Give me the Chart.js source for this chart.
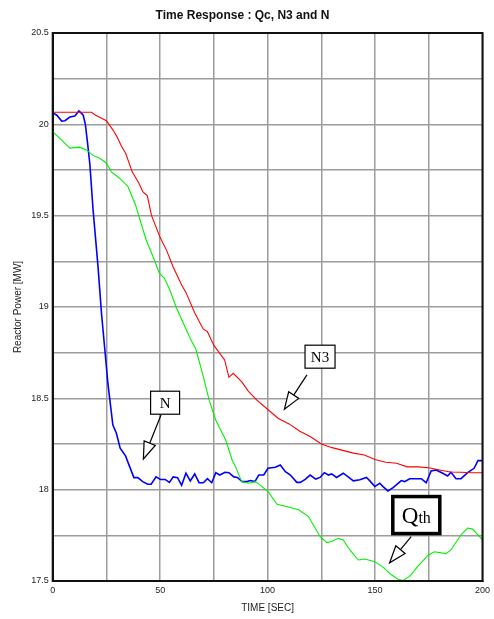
<!DOCTYPE html>
<html>
<head>
<meta charset="utf-8">
<script src="https://cdn.jsdelivr.net/npm/chart.js@4/dist/chart.umd.min.js"></script>
<style>
  html, body { margin: 0; padding: 0; background: #fff; }
  #wrap { width: 494px; height: 619px; }
</style>
</head>
<body>
<div id="wrap"><canvas id="chart"></canvas></div>
<script>
// time axis (s) and series
const timeN = [
  0, 1.9, 4.2, 5.7, 8, 10.3, 12.2, 13.4, 14.2, 15.2,
  16.2, 17.3, 18.8, 21.1, 22.7, 24.2, 25.7, 28, 29.6, 31.4,
  33.9, 35.8, 37.8, 39.6, 41.9, 44.2, 45.8, 48.1, 50.1, 52.3,
  54.3, 56.1, 58.1, 60, 62, 64, 66.1, 68.1, 70.1, 72,
  74, 75.9, 77.7, 80.2, 82, 84.3, 85.9, 88.2, 90.5, 92,
  94.1, 95.9, 98.2, 100.2, 103.6, 105.9, 108.3, 110.6, 113.6, 115.2,
  117.5, 119.8, 122.4, 124.4, 126.4, 128.3, 129.8, 132.1, 135.2, 137.5,
  139.9, 142.9, 146, 147.6, 149.9, 152.2, 153.7, 156, 158.4, 162.2,
  163.8, 166.1, 171.5, 173.8, 176.1, 178.4, 181.5, 183.8, 185.3, 187.7,
  190, 193.1, 196.1, 197.9, 200
];
const powerN = [
  20.064, 20.05, 20.018, 20.02, 20.04, 20.045, 20.073, 20.06, 20.05, 20.0,
  19.9, 19.78, 19.53, 19.22, 18.966, 18.774, 18.58, 18.354, 18.31, 18.227,
  18.185, 18.126, 18.066, 18.066, 18.044, 18.03, 18.03, 18.07, 18.056, 18.056,
  18.04, 18.07, 18.066, 18.024, 18.09, 18.048, 18.086, 18.038, 18.038, 18.06,
  18.038, 18.093, 18.08, 18.095, 18.093, 18.07, 18.067, 18.044, 18.044, 18.05,
  18.044, 18.08, 18.08, 18.117, 18.123, 18.135, 18.098, 18.08, 18.04, 18.04,
  18.056, 18.08, 18.058, 18.067, 18.093, 18.08, 18.086, 18.067, 18.09, 18.07,
  18.048, 18.054, 18.067, 18.048, 18.017, 18.035, 18.017, 17.993, 18.011, 18.05,
  18.044, 18.06, 18.06, 18.038, 18.102, 18.108, 18.09, 18.075, 18.095, 18.06,
  18.06, 18.093, 18.117, 18.159, 18.159
];

const timeN3 = [
  0, 5, 10, 15, 18, 20, 25, 28, 30, 32,
  34, 37, 40, 42, 44, 46, 50, 53, 56, 60,
  62, 66, 70, 72, 75, 80, 82, 84, 88, 91,
  95, 100, 105, 110, 115, 120, 125, 130, 135, 140,
  145, 150, 155, 160, 165, 170, 175, 180, 185, 190,
  195, 200
];
const powerN3 = [
  20.066, 20.066, 20.066, 20.066, 20.066, 20.05, 20.02, 19.97, 19.93, 19.88,
  19.84, 19.74, 19.68, 19.63, 19.61, 19.50, 19.38, 19.31, 19.22, 19.12,
  19.08, 18.97, 18.88, 18.865, 18.79, 18.71, 18.615, 18.637, 18.59, 18.54,
  18.49, 18.44, 18.39, 18.36, 18.32, 18.29, 18.25, 18.23, 18.215, 18.20,
  18.19, 18.165, 18.15, 18.145, 18.125, 18.125, 18.12, 18.108, 18.097, 18.095,
  18.093, 18.093
];

const timeQth = [
  0, 4.2, 8, 12.4, 15.7, 18.8, 21.9, 25, 27.3, 31.1,
  35, 38.5, 40.4, 43.5, 47.3, 49.6, 52, 54.3, 57.4, 62,
  64.3, 66.6, 69.7, 72.8, 75.9, 80.5, 83.6, 85.1, 87.9, 91.3,
  94.4, 97.4, 100.5, 104.4, 109.8, 114.4, 119, 124.4, 127.5, 129.8,
  132.9, 135.2, 138.3, 142.2, 145.3, 149.9, 153.7, 157.6, 160.7, 163,
  166.1, 169.9, 174.6, 177.6, 183, 185.3, 190, 193.1, 195.4, 198.5,
  200
];
const powerQth = [
  19.96, 19.914, 19.87, 19.875, 19.86, 19.83, 19.814, 19.787, 19.74, 19.705,
  19.66, 19.56, 19.486, 19.367, 19.257, 19.185, 19.157, 19.10, 19.0, 18.88,
  18.82, 18.77, 18.637, 18.49, 18.38, 18.272, 18.16, 18.126, 18.044, 18.035,
  18.044, 18.017, 17.985, 17.92, 17.905, 17.89, 17.853, 17.744, 17.71, 17.716,
  17.734, 17.725, 17.67, 17.615, 17.62, 17.606, 17.576, 17.534, 17.51, 17.503,
  17.525, 17.58, 17.64, 17.66, 17.65, 17.67, 17.753, 17.79, 17.784, 17.744,
  17.725
];

// callout labels and where they point (data coords)
const calloutText = ['N', 'N3', 'Qth'];
const calloutBox = [[52.3, 18.476], [124.4, 18.728], [169.2, 17.861]];
const calloutTail = [[50.4, 18.409], [118.3, 18.628], [166.8, 17.743]];
const calloutTip = [[42.2, 18.168], [107.8, 18.44], [156.8, 17.60]];

function pairs(xs, ys) {
  return xs.map((x, i) => ({ x: x, y: ys[i] }));
}

// black frame round the plot area
const framePlugin = {
  id: 'frame',
  afterDatasetsDraw(chart) {
    const a = chart.chartArea, ctx = chart.ctx;
    ctx.save();
    ctx.strokeStyle = '#111';
    ctx.lineWidth = 2;
    ctx.strokeRect(a.left, a.top, a.right - a.left, a.bottom - a.top);
    ctx.restore();
  }
};

// boxed labels with open-headed arrows
const calloutPlugin = {
  id: 'callouts',
  afterDraw(chart) {
    const ctx = chart.ctx;
    const xs = chart.scales.x, ys = chart.scales.y;
    const px = p => [xs.getPixelForValue(p[0]), ys.getPixelForValue(p[1])];
    calloutText.forEach((txt, i) => {
      const big = txt === 'Qth';
      const [cx, cy] = px(calloutBox[i]);
      const [tx, ty] = px(calloutTail[i]);
      const [hx, hy] = px(calloutTip[i]);
      const w = big ? 47 : (txt === 'N3' ? 30 : 29);
      const h = big ? 37 : 23;

      ctx.save();
      // arrow shaft
      const dx = hx - tx, dy = hy - ty;
      const len = Math.hypot(dx, dy);
      const ux = dx / len, uy = dy / len;
      const headL = 17, headW = 12;
      const bx = hx - ux * headL, by = hy - uy * headL;
      ctx.strokeStyle = '#000';
      ctx.lineWidth = 1.2;
      ctx.beginPath();
      ctx.moveTo(tx, ty);
      ctx.lineTo(bx, by);
      ctx.stroke();
      // open arrow head
      ctx.beginPath();
      ctx.moveTo(hx, hy);
      ctx.lineTo(bx - uy * headW / 2, by + ux * headW / 2);
      ctx.lineTo(bx + uy * headW / 2, by - ux * headW / 2);
      ctx.closePath();
      ctx.fillStyle = '#fff';
      ctx.fill();
      ctx.stroke();

      // box
      ctx.fillStyle = '#fff';
      ctx.fillRect(cx - w / 2, cy - h / 2, w, h);
      ctx.lineWidth = big ? 3.5 : 1.2;
      ctx.strokeRect(cx - w / 2, cy - h / 2, w, h);

      // text
      ctx.fillStyle = '#000';
      ctx.textBaseline = 'alphabetic';
      if (big) {
        ctx.font = '23px "Liberation Serif"';
        const qW = ctx.measureText('Q').width;
        ctx.font = '16px "Liberation Serif"';
        const thW = ctx.measureText('th').width;
        const x0 = cx - (qW + thW) / 2;
        ctx.font = '23px "Liberation Serif"';
        ctx.fillText('Q', x0, cy + 8);
        ctx.font = '16px "Liberation Serif"';
        ctx.fillText('th', x0 + qW, cy + 8);
      } else {
        ctx.font = '15px "Liberation Serif"';
        ctx.textAlign = 'center';
        ctx.fillText(txt, cx, cy + 5);
      }
      ctx.restore();
    });
  }
};

const ctx = document.getElementById('chart').getContext('2d');
new Chart(ctx, {
  type: 'scatter',
  data: {
    datasets: [
      { label: 'N3', data: pairs(timeN3, powerN3), borderColor: '#ff0000', borderWidth: 1.1 },
      { label: 'Qth', data: pairs(timeQth, powerQth), borderColor: '#00f000', borderWidth: 1.1 },
      { label: 'N', data: pairs(timeN, powerN), borderColor: '#0000ff', borderWidth: 1.6 }
    ]
  },
  options: {
    responsive: true,
    maintainAspectRatio: false,
    animation: false,
    showLine: true,
    elements: { point: { radius: 0, hoverRadius: 0 }, line: { tension: 0 } },
    layout: { padding: { left: 0, right: 9, top: 0, bottom: 0 } },
    plugins: {
      legend: { display: false },
      tooltip: { enabled: false },
      title: {
        display: true,
        text: 'Time Response : Qc, N3 and N',
        color: '#111',
        font: { family: '"Liberation Sans"', size: 12, weight: 'bold' },
        padding: { top: 8.5, bottom: 10.1 }
      }
    },
    scales: {
      x: {
        type: 'linear',
        min: 0,
        max: 200,
        afterFit(scale) { scale.height = 38; },
        ticks: {
          stepSize: 25,
          padding: 4,
          color: '#222',
          font: { family: '"Liberation Sans"', size: 9 },
          maxRotation: 0,
          autoSkip: false,
          callback: v => (v % 50 === 0 ? String(v) : '')
        },
        grid: { color: '#9c9c9c', lineWidth: 1.5, drawTicks: false },
        border: { color: '#111', width: 2 },
        title: {
          display: true,
          text: 'TIME [SEC]',
          color: '#222',
          font: { family: '"Liberation Sans"', size: 10 },
          padding: { top: 0, bottom: 5 }
        }
      },
      y: {
        min: 17.5,
        max: 20.5,
        afterFit(scale) { scale.width = 52.7; },
        ticks: {
          stepSize: 0.25,
          padding: 4,
          color: '#222',
          font: { family: '"Liberation Sans"', size: 9 },
          autoSkip: false,
          callback: v => (Math.abs(v * 2 - Math.round(v * 2)) < 1e-6 ? String(v) : '')
        },
        grid: { color: '#9c9c9c', lineWidth: 1.5, drawTicks: false },
        border: { color: '#111', width: 2 },
        title: {
          display: true,
          text: 'Reactor Power [MW]',
          color: '#222',
          font: { family: '"Liberation Sans"', size: 10 },
          padding: { top: 12, bottom: 0 }
        }
      }
    }
  },
  plugins: [framePlugin, calloutPlugin]
});
</script>
</body>
</html>
